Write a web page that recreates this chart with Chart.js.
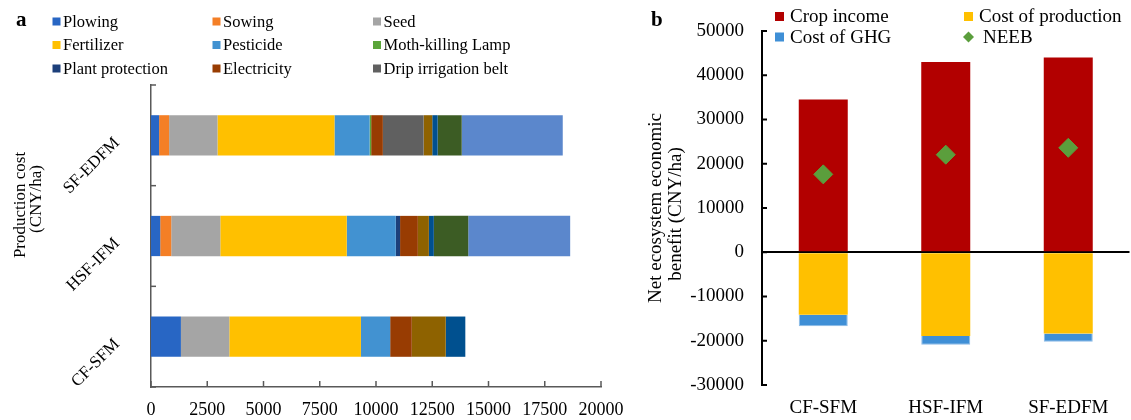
<!DOCTYPE html>
<html><head><meta charset="utf-8">
<script src="https://cdn.jsdelivr.net/npm/chart.js@4.4.1/dist/chart.umd.min.js"></script>
<style>
html,body{margin:0;padding:0;background:#fff;overflow:hidden;width:1131px;height:420px;}
#ca{position:absolute;left:0;top:0;}
#cb{position:absolute;left:620px;top:0;}
</style></head><body>
<canvas id="ca" width="660" height="420"></canvas>
<canvas id="cb" width="520" height="420"></canvas>
<script>
// ---------- data: panel a (production cost, CNY/ha) ----------
const systems = ['CF-SFM', 'HSF-IFM', 'SF-EDFM'];
const costLabels = ['Plowing', 'Sowing', 'Seed', 'Fertilizer', 'Pesticide', 'Moth-killing Lamp',
  'Plant protection', 'Electricity', 'Drip irrigation belt', '', '', '', ''];
const plowing         = [1330, 410, 360];
const sowing          = [0, 490, 445];
const seed            = [2150, 2180, 2150];
const fertilizer      = [5850, 5620, 5200];
const pesticide       = [1300, 2180, 1560];
const mothLamp        = [0, 0, 70];
const plantProtection = [0, 190, 0];
const electricity     = [960, 790, 520];
const dripBelt        = [0, 0, 1810];
const otherA          = [1510, 490, 385];
const otherB          = [870, 220, 240];
const otherC          = [0, 1530, 1070];
const otherD          = [0, 4530, 4490];
const costTicks = [0, 2500, 5000, 7500, 10000, 12500, 15000, 17500, 20000];

// ---------- data: panel b (NEEB, CNY/ha) ----------
const cropIncome     = [34500, 43000, 44000];
const productionCost = [-14100, -18900, -18350];
const ghgCost        = [-2650, -2000, -1880];
const neeb           = [17600, 22050, 23600];
const neebTicks = [-30000, -20000, -10000, 0, 10000, 20000, 30000, 40000, 50000];
const neebLabels = ['Crop income', 'Cost of production', 'Cost of GHG', 'NEEB'];

// ---------- styles ----------
const F = 'Liberation Serif, Times New Roman, serif';
const costSeries = [plowing, sowing, seed, fertilizer, pesticide, mothLamp, plantProtection,
  electricity, dripBelt, otherA, otherB, otherC, otherD];
const costColors = ['#2866c4', '#f47f26', '#a5a5a5', '#ffc000', '#4292d1', '#5ba53a', '#1c3f7a',
  '#983c02', '#606060', '#8e6200', '#00508f', '#3c5c24', '#5b87cc'];
const axisGray = '#595959';

const decorA = {
  id: 'decorA',
  afterDraw(chart) {
    const {ctx, chartArea: a, scales: {x, y}} = chart;
    ctx.save();
    ctx.strokeStyle = axisGray; ctx.lineWidth = 1.5;
    x.ticks.forEach(t => {
      const px = x.getPixelForValue(t.value);
      ctx.beginPath(); ctx.moveTo(px, a.bottom); ctx.lineTo(px, a.bottom - 6); ctx.stroke();
    });
    const n = y.ticks.length;
    for (let i = 0; i <= n; i++) {
      const py = a.top + (a.bottom - a.top) * i / n;
      ctx.beginPath(); ctx.moveTo(a.left, py); ctx.lineTo(a.left + 5, py); ctx.stroke();
    }
    // legend
    const colX = [52.5, 212.5, 373];
    const rowY = [21.5, 45, 68.5];
    ctx.font = '16.5px ' + F; ctx.textBaseline = 'middle'; ctx.textAlign = 'left';
    chart.data.datasets.forEach((ds, i) => {
      if (!ds.label) return;
      const sx = colX[i % 3], sy = rowY[Math.floor(i / 3)];
      ctx.fillStyle = ds.backgroundColor; ctx.fillRect(sx, sy - 4, 8, 8);
      ctx.fillStyle = '#000'; ctx.fillText(ds.label, sx + 10.5, sy + 1);
    });
    // panel letter
    ctx.font = 'bold 21px ' + F; ctx.fillText('a', 16, 21);
    // axis title
    ctx.font = '17px ' + F; ctx.textAlign = 'center';
    ctx.save(); ctx.translate(21, 205); ctx.rotate(-Math.PI / 2); ctx.fillText('Production cost', 0, 0); ctx.restore();
    ctx.save(); ctx.translate(37, 199); ctx.rotate(-Math.PI / 2); ctx.fillText('(CNY/ha)', 0, 0); ctx.restore();
    ctx.restore();
  }
};

new Chart(document.getElementById('ca'), {
  type: 'bar',
  data: {
    labels: systems,
    datasets: costSeries.map((d, i) => ({
      label: costLabels[i], data: d, backgroundColor: costColors[i], borderWidth: 0,
      categoryPercentage: 0.8, barPercentage: 0.5
    }))
  },
  options: {
    indexAxis: 'y', responsive: false, animation: false,
    layout: {padding: {top: 85, right: 59, left: 0, bottom: 0}},
    plugins: {legend: {display: false}, tooltip: {enabled: false}},
    scales: {
      x: {
        stacked: true, min: 0, max: 20000,
        afterBuildTicks: s => { s.ticks = costTicks.map(v => ({value: v})); },
        grid: {display: false, drawTicks: false},
        border: {display: true, color: axisGray, width: 1.5},
        ticks: {font: {family: F, size: 18}, color: '#000', padding: 12, maxRotation: 0, autoSkip: false,
          callback: v => String(v)},
        afterFit: s => { s.height = 33; s.paddingLeft = 0; s.paddingRight = 0; }
      },
      y: {
        stacked: true, reverse: true,
        grid: {display: false, drawTicks: false},
        border: {display: true, color: axisGray, width: 1.5},
        ticks: {font: {family: F, size: 17}, color: '#000', padding: 34, labelOffset: 5,
          minRotation: 45, maxRotation: 45, autoSkip: false},
        afterFit: s => { s.width = 151; s.paddingTop = 0; s.paddingBottom = 0; }
      }
    }
  },
  plugins: [decorA]
});

const neebColors = ['#b20000', '#ffc000', '#3f8fd6', '#5b9e3c'];

const decorB = {
  id: 'decorB',
  afterDraw(chart) {
    const {ctx, chartArea: a, scales: {y}} = chart;
    ctx.save();
    ctx.strokeStyle = '#000'; ctx.lineWidth = 2;
    y.ticks.forEach(t => {
      const py = y.getPixelForValue(t.value);
      ctx.beginPath(); ctx.moveTo(a.left, py); ctx.lineTo(a.left + 5, py); ctx.stroke();
    });
    // legend
    const colX = [155, 344];
    const rowY = [16.5, 37];
    ctx.font = '19px ' + F; ctx.textBaseline = 'middle'; ctx.textAlign = 'left';
    chart.data.datasets.forEach((ds, i) => {
      const sx = colX[i % 2], sy = rowY[Math.floor(i / 2)];
      ctx.fillStyle = neebColors[i];
      if (ds.type === 'line') {
        ctx.beginPath(); ctx.moveTo(sx + 4.5, sy - 5.5); ctx.lineTo(sx + 10, sy); ctx.lineTo(sx + 4.5, sy + 5.5);
        ctx.lineTo(sx - 1, sy); ctx.closePath(); ctx.fill();
        ctx.fillStyle = '#000'; ctx.fillText(ds.label, sx + 19, sy + 1);
      } else {
        ctx.fillRect(sx, sy - 4.5, 9, 9);
        ctx.fillStyle = '#000'; ctx.fillText(ds.label, sx + 15, sy + 1);
      }
    });
    ctx.font = 'bold 21px ' + F; ctx.fillText('b', 31, 21);
    ctx.font = '19px ' + F; ctx.textAlign = 'center';
    ctx.save(); ctx.translate(36, 208); ctx.rotate(-Math.PI / 2); ctx.fillText('Net ecosystem economic', 0, 0); ctx.restore();
    ctx.save(); ctx.translate(56, 214); ctx.rotate(-Math.PI / 2); ctx.fillText('benefit (CNY/ha)', 0, 0); ctx.restore();
    ctx.restore();
  }
};

new Chart(document.getElementById('cb'), {
  type: 'bar',
  data: {
    labels: systems,
    datasets: [
      {type: 'bar', label: neebLabels[0], data: cropIncome, backgroundColor: neebColors[0], stack: 's', order: 1,
        categoryPercentage: 0.8, barPercentage: 0.5},
      {type: 'bar', label: neebLabels[1], data: productionCost, backgroundColor: neebColors[1], stack: 's', order: 1,
        categoryPercentage: 0.8, barPercentage: 0.5},
      {type: 'bar', label: neebLabels[2], data: ghgCost, backgroundColor: neebColors[2], borderColor: '#8dbbe6',
        borderWidth: 1, stack: 's', order: 1, categoryPercentage: 0.8, barPercentage: 0.5},
      {type: 'line', label: neebLabels[3], data: neeb, showLine: false, stack: 'n', order: 0,
        pointStyle: 'rectRot', pointRadius: 9.5, pointBackgroundColor: neebColors[3], pointBorderColor: neebColors[3],
        backgroundColor: neebColors[3], borderColor: neebColors[3]}
    ]
  },
  options: {
    responsive: false, animation: false,
    layout: {padding: {top: 31, right: 3, left: 0, bottom: 0}},
    plugins: {legend: {display: false}, tooltip: {enabled: false}},
    scales: {
      x: {
        stacked: true,
        grid: {display: false, drawTicks: false},
        border: {display: false},
        ticks: {font: {family: F, size: 19}, color: '#000', padding: 12},
        afterFit: s => { s.height = 35; }
      },
      y: {
        stacked: true, min: -30000, max: 50000,
        afterBuildTicks: s => { s.ticks = neebTicks.map(v => ({value: v})); },
        grid: {drawTicks: false, lineWidth: 2,
          color: c => (c.tick && c.tick.value === 0) ? '#000' : 'rgba(0,0,0,0)'},
        border: {display: true, color: '#000', width: 2},
        ticks: {font: {family: F, size: 19}, color: '#000', padding: 18, callback: v => String(v)},
        afterFit: s => { s.width = 142; }
      }
    }
  },
  plugins: [decorB]
});
</script>
</body></html>
